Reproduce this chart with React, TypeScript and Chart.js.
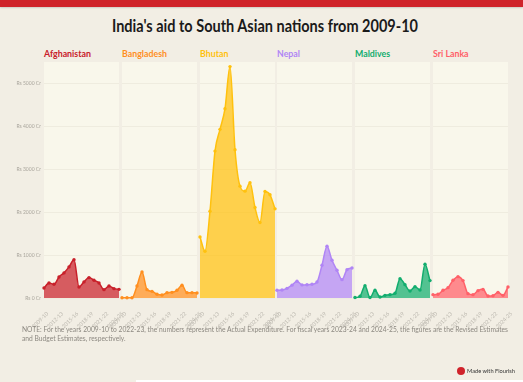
import React, { useEffect, useLayoutEffect, useRef } from 'react';
import { Chart, registerables } from 'chart.js';

Chart.register(...registerables);

const W = 523;
const H = 382;

// ---- data ----
const years = [
  '2009-10', '2010-11', '2011-12', '2012-13', '2013-14', '2014-15', '2015-16', '2016-17',
  '2017-18', '2018-19', '2019-20', '2020-21', '2021-22', '2022-23', '2023-24', '2024-25',
];
const countries = ['Afghanistan', 'Bangladesh', 'Bhutan', 'Nepal', 'Maldives', 'Sri Lanka'];
const afghanistan = [233, 350, 320, 490, 585, 725, 890, 258, 375, 475, 412, 350, 195, 280, 218, 202];
const bangladesh = [5, 5, 5, 280, 605, 195, 155, 86, 70, 125, 132, 180, 296, 125, 125, 117];
const bhutan = [1424, 1090, 2023, 3424, 3930, 4412, 5393, 3455, 2607, 2490, 2685, 2109, 1759, 2482, 2405, 2078];
const nepal = [180, 185, 225, 300, 390, 305, 310, 320, 372, 763, 1206, 879, 646, 428, 661, 700];
const maldives = [10, 40, 288, 10, 179, 23, 62, 78, 109, 451, 311, 163, 265, 187, 786, 405];
const sriLanka = [78, 86, 179, 241, 412, 498, 405, 101, 78, 171, 202, 47, 54, 132, 62, 257];
const yTickValues = [0, 1000, 2000, 3000, 4000, 5000];
const yMax = 5500;

const seriesList = [afghanistan, bangladesh, bhutan, nepal, maldives, sriLanka];
const lineColors = ['#c8202a', '#ff8f1f', '#ffc10e', '#b085f5', '#12ad6e', '#ff6068'];

const titleText = "India's aid to South Asian nations from 2009-10";
const noteLine1 =
  'NOTE: For the years 2009-10 to 2022-23, the numbers represent the Actual Expenditure. For fiscal years 2023-24 and 2024-25, the figures are the Revised Estimates';
const noteLine2 = 'and Budget Estimates, respectively.';

// ---- layout ----
const panelLefts = [44, 122, 200, 277, 355, 433];
const panelWidth = 75;
const PLOT_TOP = 62;
const PLOT_BOTTOM = 298;
const FONT = 'Lato, "Noto Sans", sans-serif';

function hexToRgba(hex: string, a: number) {
  const n = parseInt(hex.slice(1), 16);
  return `rgba(${(n >> 16) & 255}, ${(n >> 8) & 255}, ${n & 255}, ${a})`;
}

function FitText({
  lines,
  left,
  top,
  width,
  style,
}: {
  lines: string[];
  left: number;
  top: number;
  width: number;
  style: React.CSSProperties;
}) {
  const boxRef = useRef<HTMLDivElement>(null);
  const firstRef = useRef<HTMLSpanElement>(null);
  useLayoutEffect(() => {
    const box = boxRef.current;
    const first = firstRef.current;
    if (!box || !first) return;
    box.style.transform = 'none';
    const w = first.getBoundingClientRect().width;
    if (w > 0) box.style.transform = `scaleX(${width / w})`;
  }, [width]);
  return (
    <div
      ref={boxRef}
      style={{
        position: 'absolute',
        left,
        top,
        whiteSpace: 'nowrap',
        transformOrigin: '0 0',
        ...style,
      }}
    >
      {lines.map((l, i) => (
        <div key={i}>
          <span ref={i === 0 ? firstRef : undefined}>{l}</span>
        </div>
      ))}
    </div>
  );
}

function Panel({ idx }: { idx: number }) {
  const ref = useRef<HTMLCanvasElement>(null);
  useEffect(() => {
    if (!ref.current) return;
    const left = panelLefts[idx];
    const right = left + panelWidth;
    const showY = idx === 0;
    const yW = 40;
    const xH = 40;
    const color = lineColors[idx];
    const bgPlugin = {
      id: 'panelBg',
      beforeDraw(chart: any) {
        const { ctx, chartArea: a } = chart;
        ctx.save();
        ctx.fillStyle = '#f9f7eb';
        ctx.fillRect(a.left, a.top, a.right - a.left, a.bottom - a.top);
        ctx.restore();
      },
    };
    const chart = new Chart(ref.current, {
      type: 'line',
      data: {
        labels: years,
        datasets: [
          {
            label: countries[idx],
            data: seriesList[idx],
            borderColor: color,
            backgroundColor: hexToRgba(color, 0.72),
            fill: 'origin',
            borderWidth: 1.5,
            pointRadius: 1.7,
            pointBackgroundColor: color,
            pointBorderWidth: 0,
            cubicInterpolationMode: 'monotone',
            clip: false as any,
          },
        ],
      },
      options: {
        animation: false,
        responsive: false,
        devicePixelRatio: 1,
        layout: {
          padding: {
            left: showY ? left - yW : left,
            right: W - right,
            top: PLOT_TOP,
            bottom: H - PLOT_BOTTOM - xH,
          },
        },
        plugins: {
          legend: { display: false },
          tooltip: { enabled: false },
        },
        scales: {
          x: {
            grid: { display: false },
            border: { display: false },
            ticks: {
              autoSkip: false,
              maxRotation: 45,
              minRotation: 45,
              padding: 4.5,
              labelOffset: 3.5,
              color: '#bdb9b0',
              font: { size: 5.4, family: FONT },
              callback: (_v: any, i: number) => (i % 3 === 0 ? years[i] : ''),
            },
            afterFit: (s: any) => {
              s.height = xH;
            },
          },
          y: {
            min: 0,
            max: yMax,
            grid: { color: '#efecdf', drawTicks: false, lineWidth: 1 },
            border: { display: false },
            afterBuildTicks: (s: any) => {
              s.ticks = yTickValues.map((v) => ({ value: v }));
            },
            ticks: {
              display: showY,
              padding: 3,
              color: '#aaa69d',
              font: { size: 5, family: FONT },
              callback: (v: any) => `Rs ${v} Cr`,
            },
            afterFit: (s: any) => {
              s.width = showY ? yW : 0;
            },
          },
        },
      },
      plugins: [bgPlugin],
    });
    return () => chart.destroy();
  }, [idx]);
  return (
    <canvas
      ref={ref}
      width={W}
      height={H}
      style={{ position: 'absolute', left: 0, top: 0, width: W, height: H, pointerEvents: 'none' }}
    />
  );
}

export default function App() {
  useEffect(() => {
    document.body.style.margin = '0';
  }, []);
  return (
    <div
      style={{
        position: 'absolute',
        left: 0,
        top: 0,
        width: W,
        height: H,
        background: '#f2eee4',
        overflow: 'hidden',
        fontFamily: FONT,
      }}
    >
      <div
        style={{
          position: 'absolute',
          left: 0,
          top: 0,
          width: W,
          height: 7,
          background: '#cf2229',
          boxShadow: '0 1px 2px rgba(0,0,0,0.15)',
        }}
      />
      <FitText
        lines={[titleText]}
        left={112}
        top={16}
        width={306}
        style={{ fontSize: 16.5, lineHeight: '21px', fontWeight: 700, color: '#1a1a1a' }}
      />
      {countries.map((c, i) => (
        <div
          key={c}
          style={{
            position: 'absolute',
            left: panelLefts[i],
            top: 48,
            lineHeight: '12px',
            fontSize: 8.8,
            fontWeight: 700,
            color: lineColors[i],
            whiteSpace: 'nowrap',
          }}
        >
          {c}
        </div>
      ))}
      {countries.map((c, i) => (
        <Panel key={c} idx={i} />
      ))}
      <FitText
        lines={[noteLine1, noteLine2]}
        left={22}
        top={324.5}
        width={486}
        style={{ fontSize: 7, lineHeight: '9px', color: '#8c8880' }}
      />
      <div
        style={{
          position: 'absolute',
          left: 457,
          top: 367,
          width: 8,
          height: 8,
          borderRadius: '50%',
          background: '#d0232b',
        }}
      />
      <FitText
        lines={['Made with Flourish']}
        left={467}
        top={366}
        width={48}
        style={{ fontSize: 6.5, lineHeight: '10px', color: '#333' }}
      />
      <div
        style={{ position: 'absolute', left: 136, top: 380, width: W - 136, height: 2, background: '#ffffff' }}
      />
    </div>
  );
}
